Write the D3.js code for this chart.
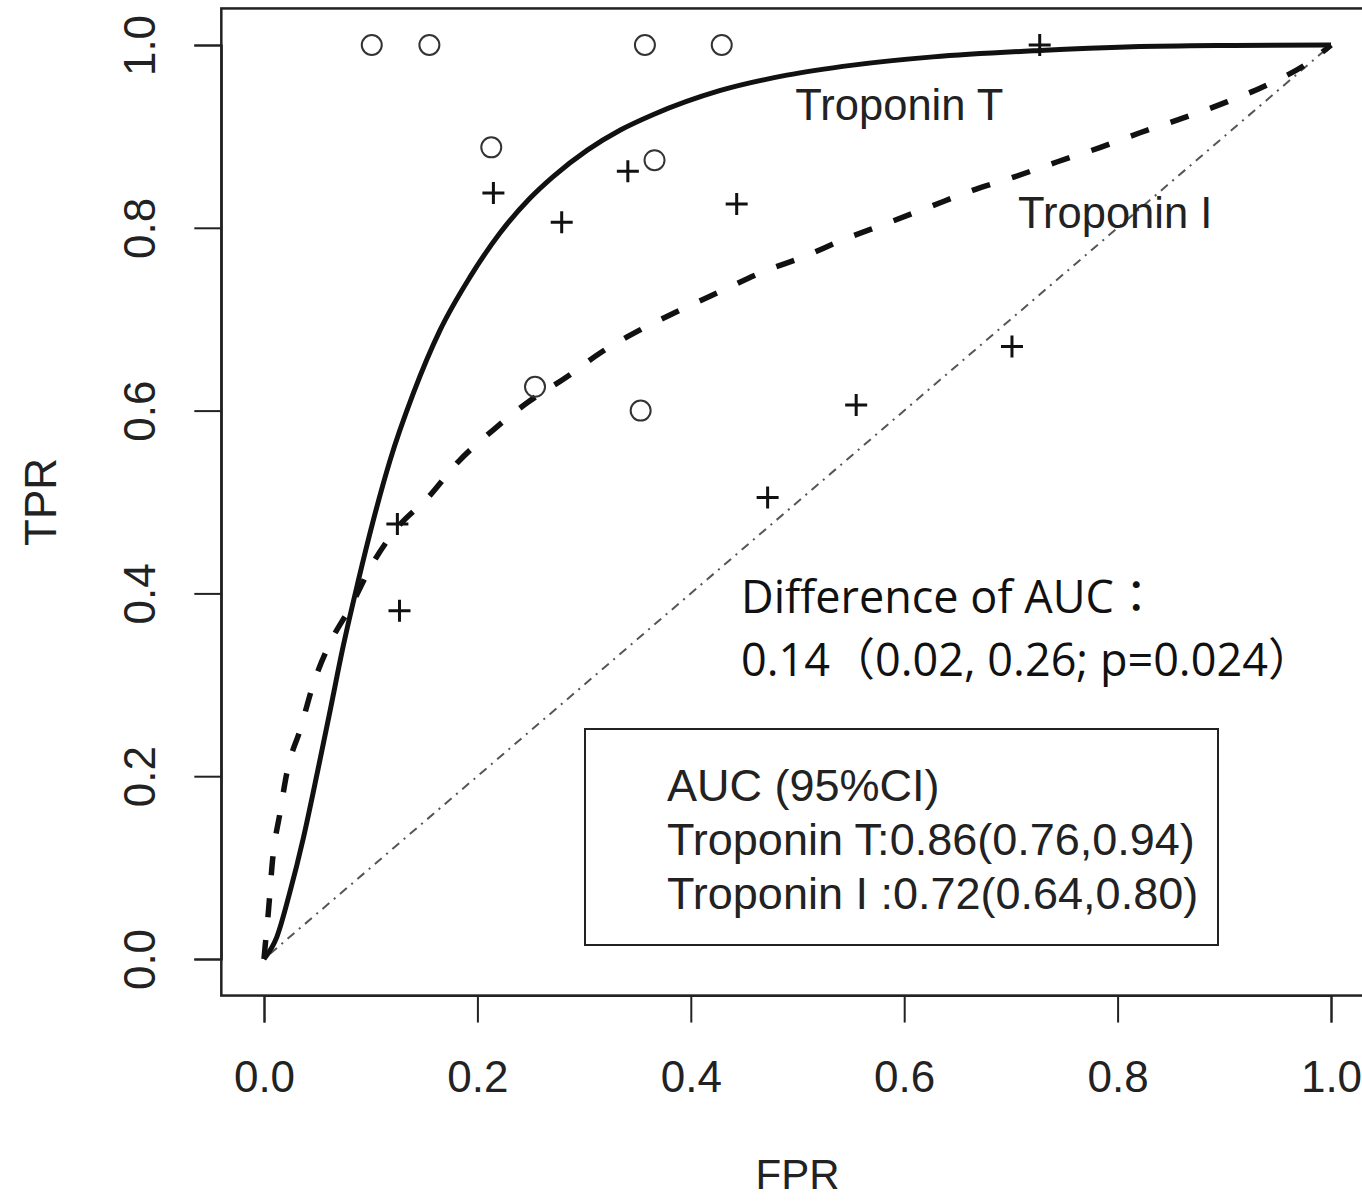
<!DOCTYPE html>
<html><head><meta charset="utf-8">
<script src="https://cdn.jsdelivr.net/npm/d3@7"></script>
<style>html,body{margin:0;padding:0;background:#fff;} svg{display:block;}</style>
</head><body>
<svg id="c" width="1362" height="1201"></svg>
<script>
// ---- data ----
const xTicks = [0.0, 0.2, 0.4, 0.6, 0.8, 1.0];
const yTicks = [0.0, 0.2, 0.4, 0.6, 0.8, 1.0];
const tickLabels = ["0.0", "0.2", "0.4", "0.6", "0.8", "1.0"];

const tntFPR = [0, 0.012, 0.024, 0.037, 0.050, 0.062, 0.074, 0.088, 0.102, 0.118, 0.140, 0.165, 0.193, 0.221, 0.249, 0.271, 0.303, 0.334, 0.365, 0.427, 0.490, 0.552, 0.627, 0.727, 0.814, 0.908, 1.0];
const tntTPR = [0, 0.024, 0.072, 0.133, 0.204, 0.272, 0.341, 0.412, 0.478, 0.545, 0.619, 0.688, 0.746, 0.794, 0.832, 0.856, 0.885, 0.907, 0.924, 0.950, 0.967, 0.978, 0.987, 0.994, 0.998, 0.9995, 1.0];

const tniFPR = [0, 0.001, 0.004, 0.008, 0.015, 0.022, 0.034, 0.046, 0.062, 0.081, 0.102, 0.125, 0.153, 0.182, 0.215, 0.246, 0.284, 0.315, 0.352, 0.390, 0.427, 0.468, 0.505, 0.543, 0.584, 0.624, 0.664, 0.704, 0.743, 0.784, 0.821, 0.861, 0.903, 0.943, 0.978, 1.0];
const tniTPR = [0, 0.013, 0.050, 0.108, 0.160, 0.207, 0.251, 0.300, 0.346, 0.385, 0.433, 0.472, 0.504, 0.544, 0.579, 0.608, 0.637, 0.663, 0.688, 0.710, 0.730, 0.752, 0.768, 0.787, 0.805, 0.823, 0.841, 0.856, 0.872, 0.888, 0.904, 0.920, 0.938, 0.958, 0.980, 1.0];

const circleFPR = [0.101, 0.155, 0.357, 0.429, 0.213, 0.366, 0.254, 0.353];
const circleTPR = [1.0, 1.0, 1.0, 1.0, 0.888, 0.874, 0.626, 0.600];

const plusFPR = [0.727, 0.215, 0.279, 0.341, 0.443, 0.125, 0.127, 0.472, 0.555, 0.701];
const plusTPR = [1.0, 0.838, 0.806, 0.862, 0.826, 0.476, 0.381, 0.505, 0.606, 0.670];

const diagFPR = [0, 1];
const diagTPR = [0, 1];

const curveLabels = [
  {text: "Troponin T", fpr: 0.498, tpr: 0.918},
  {text: "Troponin I", fpr: 0.7067, tpr: 0.800}
];
const legendLines = ["AUC (95%CI)", "Troponin T:0.86(0.76,0.94)", "Troponin I :0.72(0.64,0.80)"];
const diffLines = ["Difference of AUC\uFF1A", "0.14\uFF080.02, 0.26; p=0.024\uFF09"];

// ---- layout ----
const svg = d3.select("#c");
const x = d3.scaleLinear().domain([0, 1]).range([264, 1331]);
const y = d3.scaleLinear().domain([0, 1]).range([959, 45]);
const boxL = x(-0.04), boxR = x(1.04), boxT = y(1.04), boxB = y(-0.04);
const sans = "'Liberation Sans', Arial, sans-serif";
const dfont = "'Open Sans', 'Noto Sans', 'Noto Sans CJK JP', sans-serif";

// plot box
svg.append("rect").attr("x", boxL).attr("y", boxT)
  .attr("width", boxR - boxL).attr("height", boxB - boxT)
  .attr("fill", "none").attr("stroke", "#222").attr("stroke-width", 2.5);

// axes
const xAxis = d3.axisBottom(x).tickValues(xTicks).tickSize(27).tickPadding(38)
  .tickFormat((d, i) => tickLabels[i]);
const gx = svg.append("g").attr("transform", `translate(0,${boxB})`).call(xAxis);
gx.select(".domain").attr("stroke", "#222").attr("stroke-width", 2);
gx.selectAll(".tick line").attr("stroke", "#222").attr("stroke-width", 2);
gx.selectAll(".tick text").attr("font-family", sans).attr("font-size", 44)
  .attr("fill", "#222").attr("dy", "0.71em");

const yAxis = d3.axisLeft(y).tickValues(yTicks).tickSize(27).tickPadding(0)
  .tickFormat((d, i) => tickLabels[i]);
const gy = svg.append("g").attr("transform", `translate(${boxL},0)`).call(yAxis);
gy.select(".domain").attr("stroke", "#222").attr("stroke-width", 2);
gy.selectAll(".tick line").attr("stroke", "#222").attr("stroke-width", 2);
gy.selectAll(".tick text").attr("font-family", sans).attr("font-size", 44)
  .attr("fill", "#222").attr("text-anchor", "middle")
  .attr("x", 0).attr("dy", 0)
  .attr("transform", "translate(-66,0) rotate(-90)");

// axis titles
svg.append("text").attr("x", x(0.5)).attr("y", 1189).attr("text-anchor", "middle")
  .attr("font-family", sans).attr("font-size", 42).attr("fill", "#222").text("FPR");
svg.append("text").attr("transform", `translate(56,${y(0.5)}) rotate(-90)`)
  .attr("text-anchor", "middle").attr("font-family", sans).attr("font-size", 44)
  .attr("fill", "#222").text("TPR");

// diagonal reference line
const line = d3.line().x(d => x(d[0])).y(d => y(d[1]));
svg.append("path").datum(d3.zip(diagFPR, diagTPR)).attr("d", line)
  .attr("fill", "none").attr("stroke", "#555").attr("stroke-width", 2)
  .attr("stroke-dasharray", "2,6,9,6");

// ROC curves
const smooth = d3.line().x(d => x(d[0])).y(d => y(d[1])).curve(d3.curveMonotoneX);
svg.append("path").datum(d3.zip(tniFPR, tniTPR)).attr("d", smooth)
  .attr("fill", "none").attr("stroke", "#111").attr("stroke-width", 5.5)
  .attr("stroke-dasharray", "19,23");
svg.append("path").datum(d3.zip(tntFPR, tntTPR)).attr("d", smooth)
  .attr("fill", "none").attr("stroke", "#111").attr("stroke-width", 5);

// open circles
svg.append("g").selectAll("circle").data(d3.zip(circleFPR, circleTPR)).join("circle")
  .attr("cx", d => x(d[0])).attr("cy", d => y(d[1])).attr("r", 10)
  .attr("fill", "none").attr("stroke", "#333").attr("stroke-width", 2);

// plus marks
const ps = 11;
svg.append("g").selectAll("path").data(d3.zip(plusFPR, plusTPR)).join("path")
  .attr("d", d => `M${x(d[0]) - ps},${y(d[1])}H${x(d[0]) + ps}M${x(d[0])},${y(d[1]) - ps}V${y(d[1]) + ps}`)
  .attr("stroke", "#111").attr("stroke-width", 3).attr("fill", "none");

// curve labels
svg.append("g").selectAll("text").data(curveLabels).join("text")
  .attr("x", d => x(d.fpr)).attr("y", d => y(d.tpr))
  .attr("font-family", sans).attr("font-size", 43.5).attr("fill", "#222")
  .text(d => d.text);

// difference text
svg.append("g").selectAll("text").data(diffLines).join("text")
  .attr("x", 741).attr("y", (d, i) => 613 + i * 63)
  .attr("font-family", dfont).attr("font-size", 45).attr("fill", "#111")
  .text(d => d);

// legend box
svg.append("rect").attr("x", 585).attr("y", 729).attr("width", 633).attr("height", 216)
  .attr("fill", "#fff").attr("stroke", "#222").attr("stroke-width", 2);
svg.append("g").selectAll("text").data(legendLines).join("text")
  .attr("x", 667).attr("y", (d, i) => 801 + i * 54)
  .attr("font-family", sans).attr("font-size", 45).attr("fill", "#222")
  .text(d => d);
</script>
</body></html>
